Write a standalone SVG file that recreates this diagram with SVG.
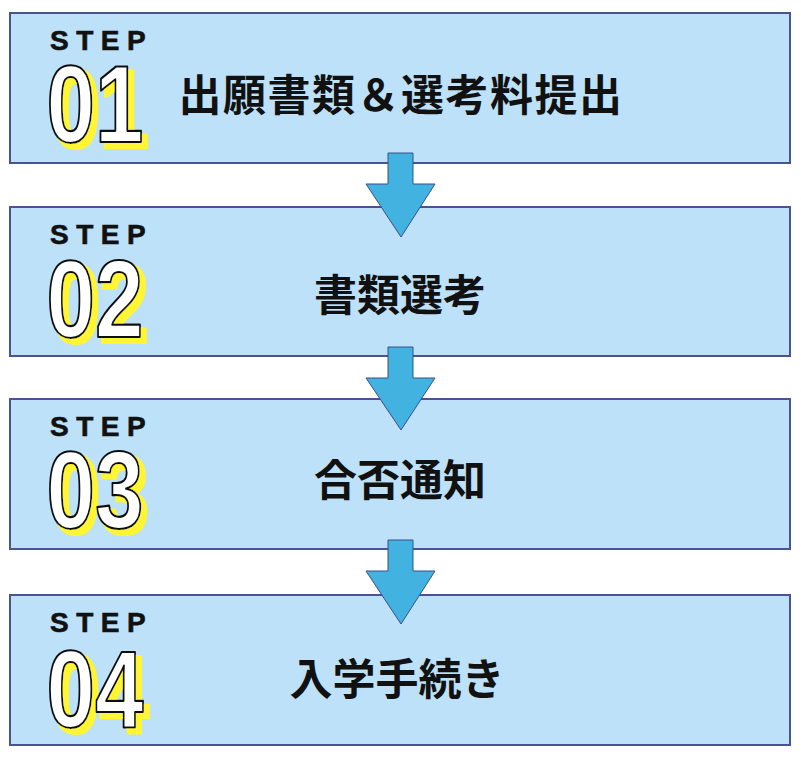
<svg xmlns="http://www.w3.org/2000/svg" width="801" height="764" viewBox="0 0 801 764">
<defs>
<filter id="ysh" x="-20%" y="-20%" width="150%" height="150%">
<feMorphology in="SourceAlpha" operator="dilate" radius="0.5" result="d"/>
<feOffset in="d" dx="5" dy="5" result="o"/>
<feFlood flood-color="#fff533" result="f"/>
<feComposite in="f" in2="o" operator="in" result="s"/>
<feMerge><feMergeNode in="s"/><feMergeNode in="SourceGraphic"/></feMerge>
</filter>
</defs>
<style>
.box{fill:#bde1f8;stroke:#4a5296;stroke-width:2}
.step{font-family:"Liberation Sans",Arial,sans-serif;font-weight:bold;font-size:28px;letter-spacing:7.5px;fill:#111;stroke:#111;stroke-width:0.6}
.num{font-family:"Liberation Sans",Arial,sans-serif;font-weight:bold;font-size:109px;text-anchor:middle;fill:#ffffff;stroke:#111;stroke-width:2.2;stroke-linejoin:round}
.lbl{font-family:"Noto Sans CJK JP","Noto Sans CJK SC",sans-serif;font-weight:bold;font-size:43px;fill:#111;text-anchor:middle}
.arrow{fill:#42b3e0;stroke:#3d4c8e;stroke-width:1}
</style>
<rect width="801" height="764" fill="#ffffff"/>
<g id="step1">
<rect class="box" x="10" y="13" width="780" height="150"/>
<text class="step" x="50" y="50">STEP</text>
<g filter="url(#ysh)"><g transform="translate(95,142) scale(0.8,1)"><text class="num" x="0" y="0">01</text></g></g>
<text class="lbl" x="401" y="111" style="letter-spacing:1.5px">出願書類＆選考料提出</text>
</g>
<g id="step2">
<rect class="box" x="10" y="207" width="780" height="149"/>
<text class="step" x="50" y="244">STEP</text>
<g filter="url(#ysh)"><g transform="translate(95,337) scale(0.8,1)"><text class="num" x="0" y="0">02</text></g></g>
<text class="lbl" x="400" y="311">書類選考</text>
</g>
<g id="step3">
<rect class="box" x="10" y="399" width="780" height="150"/>
<text class="step" x="50" y="436">STEP</text>
<g filter="url(#ysh)"><g transform="translate(95,528) scale(0.8,1)"><text class="num" x="0" y="0">03</text></g></g>
<text class="lbl" x="400" y="496">合否通知</text>
</g>
<g id="step4">
<rect class="box" x="10" y="595" width="780" height="150"/>
<text class="step" x="50" y="632">STEP</text>
<g filter="url(#ysh)"><g transform="translate(95,727) scale(0.8,1)"><text class="num" x="0" y="0">04</text></g></g>
<text class="lbl" x="397" y="695">入学手続き</text>
</g>
<g id="connectors">
<polygon class="arrow" points="388,153 413,153 413,184 435,184 401,237 366,184 388,184"/>
<polygon class="arrow" points="388,347 413,347 413,378 435,378 401,430 366,378 388,378"/>
<polygon class="arrow" points="388,540 413,540 413,571 435,571 401,624 366,571 388,571"/>
</g>
</svg>
